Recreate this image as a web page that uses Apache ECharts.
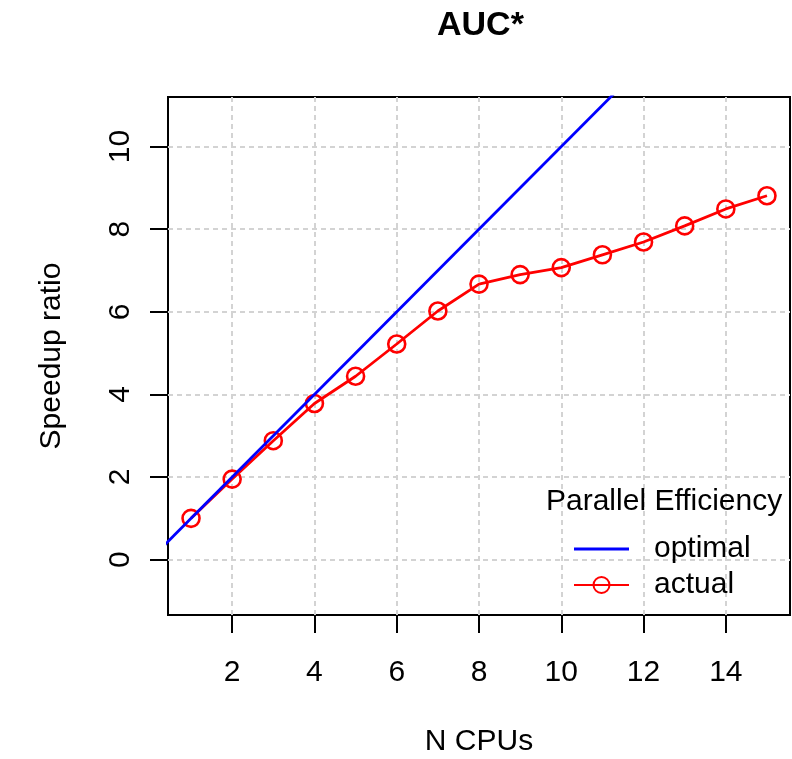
<!DOCTYPE html>
<html>
<head>
<meta charset="utf-8">
<script src="https://cdn.jsdelivr.net/npm/echarts@6/dist/echarts.min.js"></script>
<style>
    html, body { margin: 0; padding: 0; background: #fff; }
    #speedup-chart { width: 792px; height: 759px; }
</style>
</head>
<body>
<div id="speedup-chart"></div>
<script>
    // 数据
    let nCpus = [1, 2, 3, 4, 5, 6, 7, 8, 9, 10, 11, 12, 13, 14, 15];
    let actual = [1.0, 1.95, 2.88, 3.78, 4.44, 5.22, 6.02, 6.67, 6.9, 7.07, 7.38, 7.69, 8.08, 8.49, 8.81];
    let optimalX = [0, 16];
    let optimalY = [0, 16];
    let xTicks = [2, 4, 6, 8, 10, 12, 14];
    let yTicks = [0, 2, 4, 6, 8, 10];

    let font = 'Liberation Sans';
    let speedupChart = echarts.init(document.getElementById('speedup-chart'));

    let gridLine = {
        show: true,
        lineStyle: { color: '#d3d3d3', width: 2, type: [5, 4] }
    };

    let options = {
        animation: false,
        backgroundColor: '#fff',
        title: [
            {
                text: 'AUC*',
                left: 437,
                top: 9,
                padding: 0,
                textStyle: { fontFamily: font, fontSize: 34, fontWeight: 'bold', color: '#000' }
            },
            {
                text: 'Parallel Efficiency',
                left: 546,
                top: 487,
                padding: 0,
                textStyle: { fontFamily: font, fontSize: 30, fontWeight: 'normal', color: '#000' }
            }
        ],
        legend: {
            orient: 'vertical',
            left: 573,
            top: 534,
            padding: 0,
            itemWidth: 55,
            itemHeight: 20,
            itemGap: 6,
            textStyle: { fontFamily: font, fontSize: 30, lineHeight: 30, color: '#000', padding: [0, 0, 0, 20] },
            data: [
                { name: 'optimal', icon: 'path://M0,0 L55,0 L55,2.8 L0,2.8 Z', itemStyle: { color: '#0000ff' } },
                { name: 'actual' }
            ]
        },
        grid: {
            left: 168,
            top: 97,
            right: 2,
            bottom: 144,
            show: true,
            borderColor: '#000',
            borderWidth: 2,
            containLabel: false,
            outerBoundsMode: 'none'
        },
        xAxis: {
            type: 'value',
            min: 0.44,
            max: 15.56,
            name: 'N CPUs',
            nameLocation: 'middle',
            nameGap: 112,
            nameTextStyle: { fontFamily: font, fontSize: 30, color: '#000' },
            axisLine: { show: false, onZero: false },
            axisTick: {
                show: true, inside: false, length: 18, customValues: xTicks,
                lineStyle: { color: '#000', width: 2 }
            },
            axisLabel: {
                customValues: xTicks, margin: 43,
                fontFamily: font, fontSize: 30, color: '#000'
            },
            splitLine: gridLine
        },
        yAxis: {
            type: 'value',
            min: -1.34,
            max: 11.2,
            name: 'Speedup ratio',
            nameLocation: 'middle',
            nameGap: 101,
            nameTextStyle: { fontFamily: font, fontSize: 30, color: '#000' },
            axisLine: { show: false, onZero: false },
            axisTick: {
                show: true, inside: false, length: 18, customValues: yTicks,
                lineStyle: { color: '#000', width: 2 }
            },
            axisLabel: {
                customValues: yTicks, rotate: 90, margin: 32,
                fontFamily: font, fontSize: 30, color: '#000'
            },
            splitLine: gridLine
        },
        series: [
            {
                name: 'actual',
                type: 'line',
                data: nCpus.map(function (n, i) { return [n, actual[i]]; }),
                symbol: 'circle',
                symbolSize: 17,
                lineStyle: { color: '#ff0000', width: 2.8 },
                itemStyle: { color: 'rgba(0,0,0,0)', borderColor: '#ff0000', borderWidth: 2.6 },
                z: 2
            },
            {
                name: 'optimal',
                type: 'line',
                data: optimalX.map(function (v, i) { return [v, optimalY[i]]; }),
                symbol: 'none',
                clip: true,
                lineStyle: { color: '#0000ff', width: 2.8 },
                itemStyle: { color: '#0000ff' },
                z: 3
            }
        ]
    };
    speedupChart.setOption(options);
</script>
</body>
</html>
